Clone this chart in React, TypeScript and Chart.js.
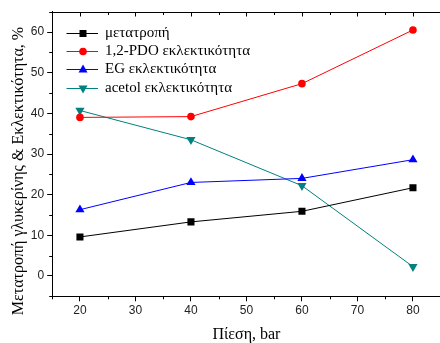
import React, { useEffect, useRef } from "react";
import { Chart, registerables } from "chart.js";

Chart.register(...registerables);

const pressures = [20, 40, 60, 80];
const conversion = [9.6, 13.3, 15.9, 21.7];
const pdoSelectivity = [39.0, 39.2, 47.3, 60.5];
const egSelectivity = [16.3, 23.0, 24.0, 28.6];
const acetolSelectivity = [40.7, 33.5, 22.2, 2.3];

const seriesLabels = [
  "μετατροπή",
  "1,2-PDO εκλεκτικότητα",
  "EG εκλεκτικότητα",
  "acetol εκλεκτικότητα",
];
const seriesColors = ["#000000", "#ff0000", "#0000ff", "#008080"];
const xTicks = [20, 30, 40, 50, 60, 70, 80];
const yTicks = [0, 10, 20, 30, 40, 50, 60];
const xTitle = "Πίεση, bar";
const yTitle = "Μετατροπή γλυκερίνης & Εκλεκτικότητα, %";

const W = 446;
const H = 343;

function drawMarker(ctx: CanvasRenderingContext2D, kind: number, x: number, y: number) {
  ctx.beginPath();
  if (kind === 0) {
    ctx.rect(x - 3.5, y - 3.5, 7, 7);
  } else if (kind === 1) {
    ctx.arc(x, y, 3.8, 0, Math.PI * 2);
  } else if (kind === 2) {
    ctx.moveTo(x, y - 5);
    ctx.lineTo(x + 4.5, y + 3);
    ctx.lineTo(x - 4.5, y + 3);
    ctx.closePath();
  } else {
    ctx.moveTo(x, y + 5);
    ctx.lineTo(x + 4.5, y - 3);
    ctx.lineTo(x - 4.5, y - 3);
    ctx.closePath();
  }
  ctx.fill();
}

const decorPlugin = {
  id: "decor",
  afterDraw(chart: any) {
    const { ctx, chartArea } = chart;
    const { left, right, top, bottom } = chartArea;
    const xs = chart.scales.x;
    const ys = chart.scales.y;
    ctx.save();
    ctx.strokeStyle = "#000";
    ctx.lineWidth = 1;
    ctx.beginPath();
    const t = Math.round(top) + 0.5;
    ctx.moveTo(left, t);
    ctx.lineTo(right, t);
    const r = Math.round(right) - 0.5;
    ctx.moveTo(r, top);
    ctx.lineTo(r, bottom);
    // minor ticks x (bottom, outward) and top ticks (inward)
    for (let v = 15; v <= 85; v += 5) {
      const px = Math.round(xs.getPixelForValue(v)) + 0.5;
      if (v % 10 !== 0) {
        ctx.moveTo(px, bottom);
        ctx.lineTo(px, bottom + 3);
      }
      ctx.moveTo(px, t);
      ctx.lineTo(px, t + (v % 10 === 0 ? 4 : 2.5));
    }
    for (let v = -5; v <= 65; v += 10) {
      const py = Math.round(ys.getPixelForValue(v)) + 0.5;
      ctx.moveTo(left - 3, py);
      ctx.lineTo(left, py);
    }
    ctx.stroke();

    // axis titles
    ctx.fillStyle = "#000";
    ctx.font = "16px 'Liberation Serif'";
    ctx.textAlign = "center";
    ctx.textBaseline = "alphabetic";
    ctx.fillText(xTitle, (left + right) / 2, 339);
    ctx.save();
    ctx.translate(23, 171);
    ctx.rotate(-Math.PI / 2);
    ctx.fillText(yTitle, 0, 0);
    ctx.restore();

    // legend
    ctx.font = "15px 'Liberation Serif'";
    ctx.textAlign = "left";
    ctx.textBaseline = "middle";
    const rows = [33.3, 50.9, 69.0, 88.0];
    seriesLabels.forEach((label, i) => {
      const y = rows[i];
      ctx.strokeStyle = seriesColors[i];
      ctx.fillStyle = seriesColors[i];
      ctx.beginPath();
      ctx.moveTo(66.5, Math.round(y) + 0.5);
      ctx.lineTo(98, Math.round(y) + 0.5);
      ctx.stroke();
      drawMarker(ctx, i, 83, Math.round(y) + 0.5);
      ctx.fillStyle = "#000";
      ctx.fillText(label, 105, y);
    });
    ctx.restore();
  },
};

export default function App() {
  const ref = useRef<HTMLCanvasElement>(null);
  useEffect(() => {
    const canvas = ref.current;
    if (!canvas) return;
    const mk = (label: string, data: number[], color: string, style: string, radius: number, rotation = 0) => ({
      label,
      data: pressures.map((p, i) => ({ x: p, y: data[i] })),
      borderColor: color,
      backgroundColor: color,
      borderWidth: 1,
      pointStyle: style,
      pointRadius: radius,
      pointRotation: rotation,
      pointBorderWidth: 0,
      tension: 0,
    });
    const chart = new Chart(canvas, {
      type: "line",
      data: {
        datasets: [
          mk(seriesLabels[0], conversion, seriesColors[0], "rect", 5),
          mk(seriesLabels[1], pdoSelectivity, seriesColors[1], "circle", 3.8),
          mk(seriesLabels[2], egSelectivity, seriesColors[2], "triangle", 5.3),
          mk(seriesLabels[3], acetolSelectivity, seriesColors[3], "triangle", 5.3, 180),
        ] as any,
      },
      options: {
        animation: false,
        responsive: false,
        devicePixelRatio: 1,
        layout: { padding: { top: 11.7, right: 4.9, left: 0, bottom: 0 } },
        plugins: { legend: { display: false }, tooltip: { enabled: false } },
        scales: {
          x: {
            type: "linear",
            min: 15,
            max: 85,
            afterBuildTicks: (s: any) => {
              s.ticks = xTicks.map((value) => ({ value }));
            },
            afterFit: (s: any) => {
              s.height = H - 296.3;
            },
            grid: { drawOnChartArea: false, tickLength: 5, color: "#000" },
            border: { color: "#000", width: 1 },
            ticks: {
              autoSkip: false,
              maxRotation: 0,
              padding: 2,
              color: "#222",
              font: { family: "'Liberation Sans'", size: 12 },
            },
          },
          y: {
            type: "linear",
            min: -5,
            max: 65,
            afterBuildTicks: (s: any) => {
              s.ticks = yTicks.map((value) => ({ value }));
            },
            afterFit: (s: any) => {
              s.width = 52.2;
            },
            grid: { drawOnChartArea: false, tickLength: 5, color: "#000" },
            border: { color: "#000", width: 1 },
            ticks: {
              autoSkip: false,
              padding: 3,
              color: "#222",
              font: { family: "'Liberation Sans'", size: 12 },
            },
          },
        },
      } as any,
      plugins: [decorPlugin],
    });
    return () => chart.destroy();
  }, []);
  return (
    <div style={{ position: "absolute", left: 0, top: 0, width: 440, height: 343, overflow: "hidden", background: "#fff" }}>
      <canvas ref={ref} width={W} height={H} style={{ display: "block", width: W, height: H }} />
    </div>
  );
}
